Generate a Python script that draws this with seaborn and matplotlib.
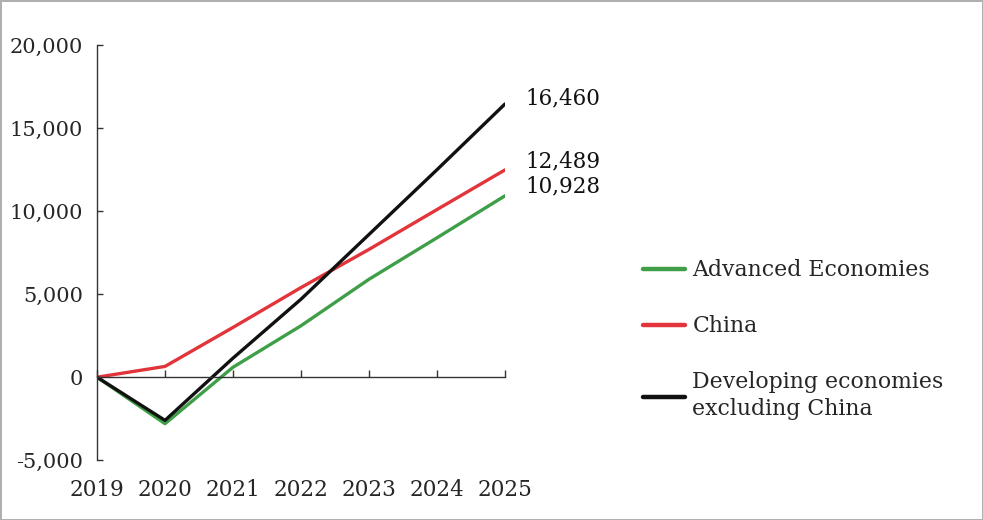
import pandas as pd
import matplotlib.pyplot as plt
import seaborn as sns
from matplotlib.ticker import FuncFormatter

years = [2019, 2020, 2021, 2022, 2023, 2024, 2025]
advanced = [0, -2800, 600, 3100, 5900, 8400, 10928]
china = [0, 650, 3000, 5400, 7700, 10100, 12489]
developing = [0, -2600, 1150, 4700, 8600, 12500, 16460]

series_names = ['Advanced Economies', 'China', 'Developing economies\nexcluding China']
series_values = [advanced, china, developing]
colors = ['#3f9f48', '#e2343b', '#111111']
y_ticks = [-5000, 0, 5000, 10000, 15000, 20000]

df = pd.DataFrame({
    'year': years * 3,
    'value': advanced + china + developing,
    'series': [n for n in series_names for _ in years],
})

sns.set_theme(style='white')
plt.rcParams['font.family'] = ['DejaVu Serif']

fig = plt.figure(figsize=(9.83, 5.2), dpi=100)
ax = fig.add_axes([0.0987, 0.115, 0.415, 0.798])

sns.lineplot(data=df, x='year', y='value', hue='series', hue_order=series_names,
             palette=colors, linewidth=2.4, ax=ax, legend=True)

ax.set_xlim(2019, 2025)
ax.set_ylim(-5000, 20000)
ax.set_yticks(y_ticks)
ax.set_xticks(years)
ax.yaxis.set_major_formatter(FuncFormatter(lambda v, p: f'{int(v):,}'))
ax.set_xlabel('')
ax.set_ylabel('')

ax.spines['top'].set_visible(False)
ax.spines['right'].set_visible(False)
ax.spines['bottom'].set_position(('data', 0))
for s in ['left', 'bottom']:
    ax.spines[s].set_color('#333333')
    ax.spines[s].set_linewidth(1.0)

ax.tick_params(axis='x', direction='in', length=5, width=1, color='#333333',
               pad=73, labelsize=15.5, bottom=True)
ax.tick_params(axis='y', direction='in', length=4, width=1, color='#333333',
               pad=10, labelsize=15, left=True)

offsets = [7, 6, 4]
for name, vals, col, off in zip(series_names, series_values, colors, offsets):
    ax.annotate(f'{vals[-1]:,}', xy=(years[-1], vals[-1]), xytext=(15, off),
                textcoords='offset points', va='center', ha='left',
                fontsize=15.5, color='#111111', annotation_clip=False)

handles, labels = ax.get_legend_handles_labels()
leg = ax.legend(handles, labels, loc='center left', bbox_to_anchor=(1.29, 0.29),
                frameon=False, fontsize=15.8, handlelength=1.9, handletextpad=0.35,
                labelspacing=1.55)
for line in leg.get_lines():
    line.set_linewidth(3.2)
for t in leg.get_texts():
    t.set_linespacing(1.3)

fig.patch.set_edgecolor('#b0b0b0')
fig.patch.set_linewidth(2)

plt.savefig('out.png', dpi=100)
